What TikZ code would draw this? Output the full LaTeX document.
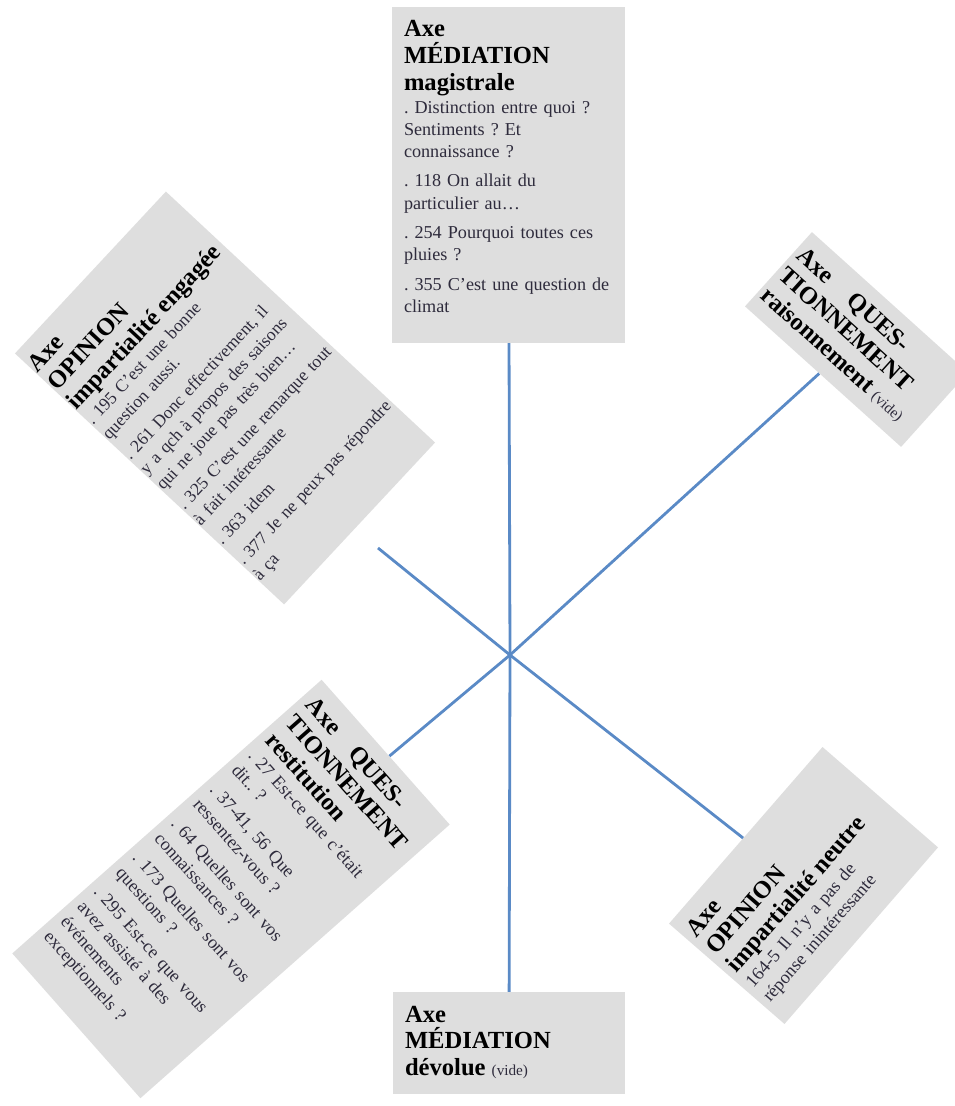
\documentclass[tikz,border=0pt]{standalone}
\usepackage{fontspec}
\setmainfont{Liberation Serif}
\frenchspacing
\definecolor{axeblue}{HTML}{5A8AC6}
\definecolor{axegray}{HTML}{DEDEDE}
\definecolor{axetext}{HTML}{2E2B3C}
\newcommand{\axetitle}[1]{{\fontsize{21}{23}\selectfont\bfseries\color{black}#1\par}}
\newcommand{\vide}{{\fontsize{13}{16}\selectfont\mdseries\color{axetext}(vide)}}

\begin{document}
\begin{tikzpicture}[
  axebox/.style={fill=axegray, align=left, inner ysep=0.3cm, text height=0.6cm,
                 font=\fontsize{15.5}{19}\selectfont, text=axetext},
  spoke/.style={axeblue, line width=2.4pt},
]
\useasboundingbox (-15.3,-13.53) rectangle (13.32,19.65);

%% ---- the six axes ----
% top: MEDIATION magistrale
\node[axebox, text width=6.27cm, inner xsep=0.36cm, text depth=8.88cm]
  (medmag) at (-0.045,14.4)
  {\axetitle{Axe\\MÉDIATION\\magistrale}
   . Distinction entre quoi ?\\Sentiments ? Et\\connaissance ?\\[6pt]
   . 118 On allait du\\particulier au…\\[6pt]
   . 254 Pourquoi toutes ces\\pluies ?\\[6pt]
   . 355 C'est une question de\\climat};

% bottom: MEDIATION devolue
\node[axebox, text width=6.24cm, inner xsep=0.36cm, text depth=1.86cm]
  (meddev) at (-0.03,-11.64)
  {\axetitle{Axe\\MÉDIATION\\dévolue \vide}};

% upper left: OPINION engagee
\node[axebox, rotate=47, text width=6.6cm, inner xsep=0.02cm, text depth=9.84cm,
      font=\fontsize{15}{19}\selectfont]
  (openg) at (-8.55,7.71)
  {\axetitle{Axe\\OPINION\\impartialité engagée}
   . 195 C'est une bonne\\question aussi.\\[6pt]
   . 261 Donc effectivement, il\\y a qch à propos des saisons\\qui ne joue pas très bien…\\[6pt]
   . 325 C'est une remarque tout\\à fait intéressante\\[6pt]
   . 363 idem\\[6pt]
   . 377 Je ne peux pas répondre\\à ça};

% upper right: QUESTIONNEMENT raisonnement
\node[axebox, rotate=-42, text width=6.0cm, inner xsep=0.15cm, text depth=1.8cm]
  (qraison) at (10.395,9.465)
  {\axetitle{Axe\hspace{0.8cm}QUES-\\TIONNEMENT\\raisonnement \vide}};

% lower right: OPINION neutre
\node[axebox, rotate=49, text width=6.62cm, inner xsep=0.2cm, text depth=3.39cm]
  (opneu) at (8.805,-6.915)
  {\axetitle{Axe\\OPINION\\impartialité neutre}
   164-5 Il n'y a pas de\\réponse inintéressante};

% lower left: QUESTIONNEMENT restitution
\node[axebox, rotate=-48.5, text width=5.3cm, inner xsep=0.25cm, text depth=11.19cm]
  (qrest) at (-8.37,-7.02)
  {\axetitle{Axe\hspace{0.7cm}QUES-\\TIONNEMENT\\restitution}
   . 27 Est-ce que c'était\\dit.. ?\\[6pt]
   . 37-41, 56 Que\\ressentez-vous ?\\[6pt]
   . 64 Quelles sont vos\\connaissances ?\\[6pt]
   . 173 Quelles sont vos\\questions ?\\[6pt]
   . 295 Est-ce que vous\\avez assisté à des\\événements\\exceptionnels ?};

%% ---- spokes from the centre ----
\coordinate (c) at (0,0);
\coordinate (engend) at (-3.96,3.21);
\foreach \b in {medmag,meddev,qraison,qrest,opneu}
  \draw[spoke] (c) -- (\b);
\draw[spoke] (c) -- (engend);

\end{tikzpicture}
\end{document}
